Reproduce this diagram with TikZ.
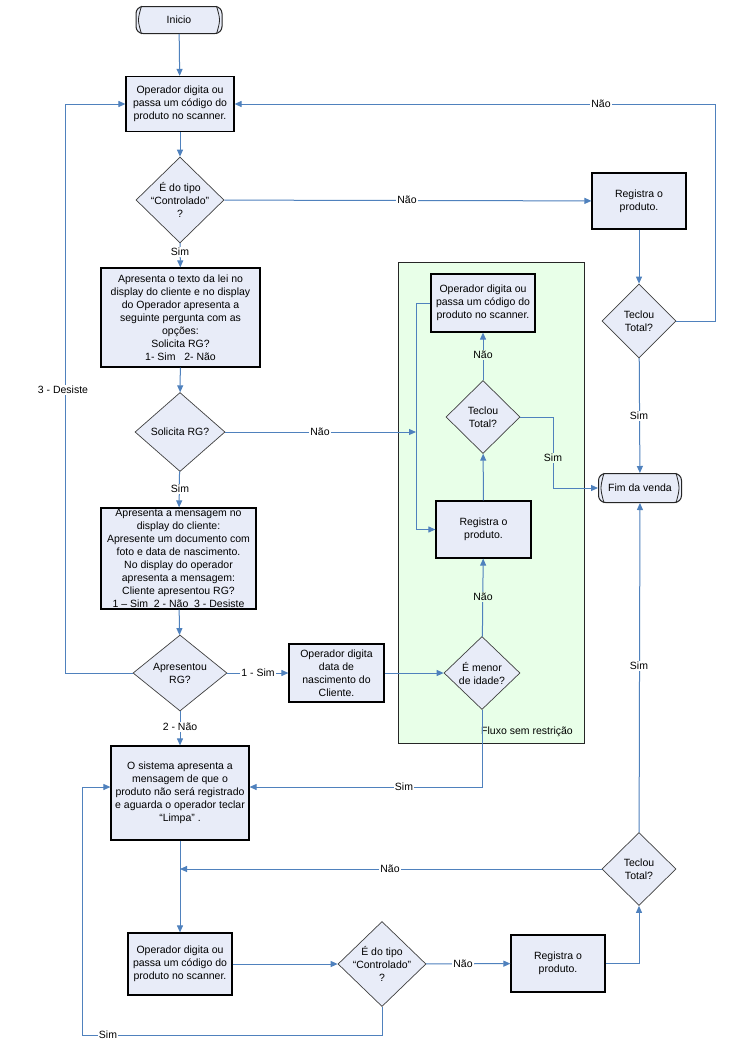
\documentclass[tikz,border=0pt]{standalone}
\usepackage{fontspec}
\setmainfont{Liberation Sans}
\usetikzlibrary{shapes.geometric,arrows.meta}
\definecolor{conncol}{RGB}{79,129,189}
\definecolor{boxfill}{RGB}{232,236,248}
\definecolor{greenfill}{RGB}{232,255,232}
\tikzset{
  txt/.style={font=\fontsize{10.5}{13}\selectfont},
  proc/.style={txt, draw=black, line width=1.2pt, fill=boxfill, align=center, inner sep=0pt},
  dec/.style={diamond, draw=black!75, line width=0.7pt, fill=boxfill, inner sep=0pt},
  dtext/.style={txt, align=center},
  term/.style={txt, draw=black!85, line width=1pt, fill=boxfill, rounded corners=7pt, inner sep=0pt},
  conn/.style={draw=conncol, line width=1pt},
  arr/.style={conn, -{Triangle[length=7pt,width=6pt]}},
  lbl/.style={txt, fill=white, inner sep=1pt},
  glbl/.style={txt, fill=greenfill, inner sep=1pt},
}
\newcommand{\termends}[1]{%
  \draw[black!85, line width=0.8pt] ([xshift=6pt]#1.north west) .. controls ([xshift=2pt]#1.west) .. ([xshift=6pt]#1.south west);
  \draw[black!85, line width=0.8pt] ([xshift=-6pt]#1.north east) .. controls ([xshift=-2pt]#1.east) .. ([xshift=-6pt]#1.south east);}
\begin{document}
\begin{tikzpicture}[x=1pt,y=-1pt]
\useasboundingbox[fill=white] (0,0) rectangle (735,1060);
% green region
\node[draw=black!85, line width=1pt, fill=greenfill, minimum width=186pt, minimum height=481pt, inner sep=0pt] (green) at (491,502.5) {};
\node[txt] (gtitle) at (527,732) {Fluxo sem restrição};

% left column
\node[term, minimum width=86pt, minimum height=27pt] (ini) at (179,20) {Inicio};
\termends{ini}
\node[proc, minimum width=108pt, minimum height=55pt] (b1) at (180,104) {Operador digita ou\\passa um código do\\produto no scanner.};
\node[dec, minimum width=88pt, minimum height=86pt] (d1) at (180,200) {};
\node[dtext] (d1t) at (d1.center) {É do tipo\\“Controlado”\\?};
\node[proc, minimum width=159pt, minimum height=99pt] (b2) at (180.5,317.5) {Apresenta o texto da lei no\\display do cliente e no display\\do Operador apresenta a\\seguinte pergunta com as\\opções:\\Solicita RG?\\1- Sim \ \ 2- Não};
\node[dec, minimum width=90pt, minimum height=79pt] (d2) at (180,432) {};
\node[dtext] (d2t) at (d2.center) {Solicita RG?};
\node[proc, minimum width=155pt, minimum height=101pt] (b3) at (178.5,558.5) {Apresenta a mensagem no\\display do cliente:\\Apresente um documento com\\foto e data de nascimento.\\No display do operador\\apresenta a mensagem:\\Cliente apresentou RG?\\1 – Sim \ 2 - Não \ 3 - Desiste};
\node[dec, minimum width=94pt, minimum height=76pt] (d3) at (180,673) {};
\node[dtext] (d3t) at (d3.center) {Apresentou\\RG?};
\node[proc, minimum width=95pt, minimum height=58pt] (b4) at (336.5,673) {Operador digita\\data de\\nascimento do\\Cliente.};
\node[proc, minimum width=138pt, minimum height=94pt] (b5) at (180,793) {O sistema apresenta a\\mensagem de que o\\produto não será registrado\\e aguarda o operador teclar\\“Limpa” .};

% green inner
\node[proc, minimum width=104pt, minimum height=58pt] (g1) at (483,303) {Operador digita ou\\passa um código do\\produto no scanner.};
\node[dec, minimum width=74pt, minimum height=73pt] (gd) at (483,417) {};
\node[dtext] (gdt) at (gd.center) {Teclou\\Total?};
\node[proc, minimum width=95pt, minimum height=57pt] (g2) at (483.5,529.5) {Registra o\\produto.};
\node[dec, minimum width=76pt, minimum height=73pt] (gd2) at (482,673) {};
\node[dtext] (gd2t) at (gd2.center) {É menor\\de idade?};

% right column
\node[proc, minimum width=94pt, minimum height=56pt] (r1) at (639,201) {Registra o\\produto.};
\node[dec, minimum width=74pt, minimum height=74pt] (rd) at (639,321) {};
\node[dtext] (rdt) at (rd.center) {Teclou\\Total?};
\node[term, minimum width=83pt, minimum height=29pt] (fim) at (640,488) {Fim da venda};
\termends{fim}
\node[dec, minimum width=74pt, minimum height=73pt] (bd) at (639,869) {};
\node[dtext] (bdt) at (bd.center) {Teclou\\Total?};

% bottom row
\node[proc, minimum width=104pt, minimum height=62pt] (b6) at (180,964) {Operador digita ou\\passa um código do\\produto no scanner.};
\node[dec, minimum width=88pt, minimum height=85pt] (dd) at (382,964) {};
\node[dtext] (ddt) at (dd.center) {É do tipo\\“Controlado”\\?};
\node[proc, minimum width=94pt, minimum height=57pt] (b7) at (558,963.5) {Registra o\\produto.};

% helper coordinates
\coordinate (loopx) at (416,432);
\coordinate (j1) at (180,869);

% connectors
\draw[arr] (ini) -- (b1);
\draw[arr] (b1) -- (d1);
\draw[arr] (d1) -- (b2);
\draw[arr] (d1) -- (r1);
\draw[arr] (r1) -- (rd);
\draw[arr] (rd.east) -- (715,321) |- (b1.east);
\draw[arr] (rd) -- (fim);
\draw[arr] (b2) -- (d2);
\draw[arr] (d2.east) -- (loopx);
\draw[arr] (d2) -- (b3);
\draw[arr] (b3) -- (d3);
\draw[arr] (d3.west) -- (65,673) |- (b1.west);
\draw[arr] (d3) -- (b4);
\draw[arr] (d3) -- (b5);
\draw[arr] (b4) -- (gd2);
\draw[arr] (gd2) -- (g2);
\draw[arr] (g2) -- (gd);
\draw[arr] (gd) -- (g1);
\draw[arr] (gd.east) -- (553,417) |- (fim.west);
\draw[arr] (g1.west) -- (416,303) |- (g2.west);
\draw[arr] (gd2.south) |- (b5.east |- 0,787);
\draw[arr] (b5) -- (b6);
\draw[arr] (bd.west) -- (j1);
\draw[arr] (b6) -- (dd);
\draw[arr] (dd) -- (b7);
\draw[arr] (b7.east) -| (bd.south);
\draw[arr] (bd) -- (fim);
\draw[arr] (dd.south) -- (382,1035) -| (82,787) -- (b5.west |- 0,787);

% labels
\node[lbl] (l1) at (180,252) {Sim};
\node[lbl] (l2) at (407,200) {Não};
\node[lbl] (l3) at (601,104) {Não};
\node[lbl] (l4) at (639,416) {Sim};
\node[lbl] (l5) at (320,432) {Não};
\node[lbl] (l6) at (180,489) {Sim};
\node[lbl] (l7) at (63,390) {3 - Desiste};
\node[lbl] (l8) at (258,673) {1 - Sim};
\node[lbl] (l9) at (180,727) {2 - Não};
\node[glbl] (l10) at (483,597) {Não};
\node[glbl] (l11) at (483,355) {Não};
\node[glbl] (l12) at (553,458) {Sim};
\node[lbl] (l13) at (404,787) {Sim};
\node[lbl] (l14) at (390,869) {Não};
\node[lbl] (l15) at (463,964) {Não};
\node[lbl] (l16) at (639,666) {Sim};
\node[lbl] (l17) at (108,1035) {Sim};
\end{tikzpicture}
\end{document}
